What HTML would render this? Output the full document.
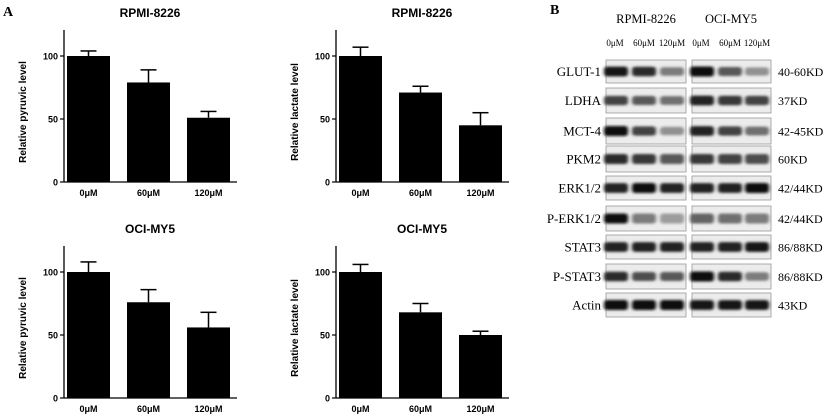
<!DOCTYPE html>
<html><head><meta charset="utf-8"><style>
body{margin:0;background:#fff;}
svg{display:block;font-family:"Liberation Sans",Arial,sans-serif;}
.serif{font-family:"Liberation Serif","Times New Roman",serif;}
</style></head><body>
<svg id="fig" width="825" height="416" viewBox="0 0 825 416">
<defs><filter id="bl" x="-20%" y="-100%" width="140%" height="300%"><feGaussianBlur stdDeviation="1.6 1.3"/></filter></defs>
<text x="3" y="16" class="serif" font-weight="bold" font-size="14">A</text>
<text x="550" y="14" class="serif" font-weight="bold" font-size="14">B</text>
<g id="charts"></g>
<g id="blot"></g>
</svg>
<script>
const categories = ["0μM","60μM","120μM"];
const titles = ["RPMI-8226","RPMI-8226","OCI-MY5","OCI-MY5"];
const ylabels = ["Relative pyruvic level","Relative lactate level","Relative pyruvic level","Relative lactate level"];
const values1 = [100,79,51];
const errors1 = [4,10,5];
const values2 = [100,71,45];
const errors2 = [7,5,10];
const values3 = [100,76,56];
const errors3 = [8,10,12];
const values4 = [100,68,50];
const errors4 = [6,7,3];
const yTicks = [0,50,100];

const NS="http://www.w3.org/2000/svg";
function mk(tag,attrs,parent,text){const e=document.createElementNS(NS,tag);for(const k in attrs)e.setAttribute(k,attrs[k]);if(text!==undefined)e.textContent=text;parent.appendChild(e);return e;}
const charts=document.getElementById('charts');
const allVals=[values1,values2,values3,values4], allErr=[errors1,errors2,errors3,errors4];
const offs=[[0,0],[272,0],[0,216],[272,216]];
offs.forEach((o,ci)=>{
  const g=mk('g',{transform:`translate(${o[0]},${o[1]})`},charts);
  
  
  const x0=64,yb=182,yt=30,xe=237;
  const yScale=v=>yb-(v/100)*126;
  const xScale=i=>67+i*60;
  const bw=43;
  const t=mk('text',{x:150,y:17,'text-anchor':'middle','font-weight':'bold','font-size':12},g,titles[ci]);
  
  
  const yl=mk('text',{x:0,y:0,transform:`translate(26,${(yb+yt)/2+6}) rotate(-90)`,'text-anchor':'middle','font-weight':'bold','font-size':10},g,ylabels[ci]);
  
  
  mk('line',{x1:x0,y1:yt,x2:x0,y2:yb,stroke:'#000','stroke-width':1.3},g);
  mk('line',{x1:x0,y1:yb,x2:xe,y2:yb,stroke:'#000','stroke-width':1.3},g);
  yTicks.forEach(v=>{
    mk('line',{x1:x0-4,y1:yScale(v),x2:x0,y2:yScale(v),stroke:'#000','stroke-width':1.2},g);
    const tl=mk('text',{x:x0-6,y:yScale(v)+3.5,'text-anchor':'end','font-size':9,'font-weight':'bold'},g,String(v));
    
    
  });
  const vals=allVals[ci],errs=allErr[ci];
  categories.forEach((c,i)=>{
    const x=xScale(i);
    const top=yScale(vals[i]), et=yScale(vals[i]+errs[i]);
    const b=mk('rect',{x:x,y:top,width:bw,height:yb-top,fill:'#000'},g);
    
    
    mk('line',{x1:x+bw/2,y1:top,x2:x+bw/2,y2:et,stroke:'#000','stroke-width':1.5},g);
    mk('line',{x1:x+bw/2-8,y1:et,x2:x+bw/2+8,y2:et,stroke:'#000','stroke-width':1.5},g);
    const xl=mk('text',{x:x+bw/2,y:196,'text-anchor':'middle','font-size':9,'font-weight':'bold'},g,c);
    
    
  });
});

// Western blot
const proteins=["GLUT-1","LDHA","MCT-4","PKM2","ERK1/2","P-ERK1/2","STAT3","P-STAT3","Actin"];
const weights=["40-60KD","37KD","42-45KD","60KD","42/44KD","42/44KD","86/88KD","86/88KD","43KD"];
const intensity=[[0.95,0.85,0.5,1,0.65,0.4],[0.75,0.65,0.55,0.9,0.8,0.75],[1,0.75,0.4,0.9,0.75,0.55],[0.85,0.8,0.65,0.8,0.75,0.7],[0.9,1,0.9,0.9,0.9,1],[1,0.5,0.35,0.6,0.55,0.5],[0.9,0.9,0.9,0.9,0.9,0.95],[0.85,0.7,0.65,1,0.85,0.5],[1,1,1,0.95,0.95,0.95]];
const blot=document.getElementById('blot');
const rowY=[60,88,118,146,176,206,235,264,293];
const rh=[23,25,26,26,24,25,24,25,24];
[["RPMI-8226",646],["OCI-MY5",731]].forEach(([n,x])=>{
  const t=mk('text',{x:x,y:23,'text-anchor':'middle','font-size':12.5,class:'serif'},blot,n);
  
  
});
const laneX=[616,644,672,702,730,757];
const laneLab=["0μM","60μM","120μM","0μM","60μM","120μM"];
laneLab.forEach((l,i)=>{
  const t=mk('text',{x:laneX[i]+(i==0||i==3?-1:0),y:46,'text-anchor':'middle','font-size':9,class:'serif'},blot,l);
  
  
});
proteins.forEach((p,r)=>{
  const y=rowY[r],h=rh[r];
  const lt=mk('text',{x:601,y:y+h/2+4.5,'text-anchor':'end','font-size':13,class:'serif'},blot,p);
  
  
  const wt=mk('text',{x:778,y:y+h/2+4.5,'font-size':12,class:'serif'},blot,weights[r]);
  
  
  [[606,80],[692,79]].forEach((bx,k)=>{
    mk('rect',{x:bx[0],y:y,width:bx[1],height:h,fill:'#ececec',stroke:'#999','stroke-width':0.8},blot);
    for(let j=0;j<3;j++){
      const v=intensity[r][k*3+j];
      const c=Math.round(235-225*v);
      const cx=laneX[k*3+j];
      const bh=(r==3||r==5)?10:7+v*3;
      const band=mk('rect',{x:cx-12,y:y+h/2-bh/2,width:24,height:bh,rx:3,fill:`rgb(${c},${c},${c})`,filter:'url(#bl)'},blot);
      
      
    }
  });
});
</script>
</body></html>
